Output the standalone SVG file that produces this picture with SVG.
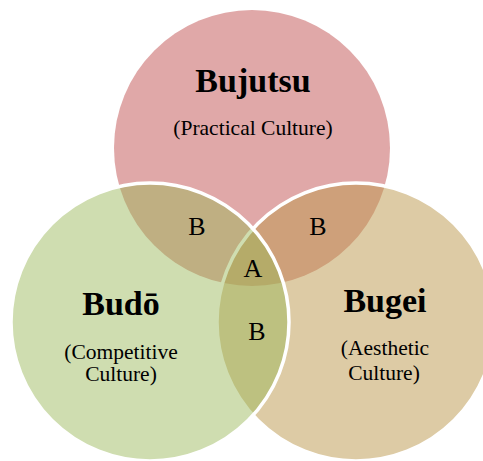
<svg xmlns="http://www.w3.org/2000/svg" width="483" height="461" viewBox="0 0 483 461">
  <style>
    .title { font-family: "Liberation Serif", "Times New Roman", serif; font-weight: bold; font-size: 34px; fill: #000; text-anchor: middle; }
    .sub { font-family: "Liberation Serif", "Times New Roman", serif; font-size: 21.5px; fill: #000; text-anchor: middle; }
    .zone { font-family: "Liberation Serif", "Times New Roman", serif; font-size: 26px; fill: #000; text-anchor: middle; }
    .ring { stroke: #fff; stroke-width: 3.5; }
  </style>
  <rect width="483" height="461" fill="#fff"/>

  <!-- Bujutsu: top set, opaque base layer -->
  <g id="bujutsu">
    <circle cx="252" cy="148" r="138" fill="#E0A8A8"/>
  </g>

  <!-- Bugei: right set, translucent over the top set -->
  <g id="bugei">
    <circle class="ring" cx="356" cy="322" r="139" fill="rgb(187,151,75)" fill-opacity="0.5"/>
  </g>

  <!-- Budō: left set, translucent over both -->
  <g id="budo">
    <circle class="ring" cx="150" cy="322" r="139" fill="rgb(153,183,87)" fill-opacity="0.47"/>
  </g>

  <!-- set names -->
  <g id="labels">
    <text class="title" x="253" y="92">Bujutsu</text>
    <text class="sub" x="253" y="135" font-size="23">(Practical Culture)</text>

    <text class="title" x="121" y="315">Budō</text>
    <text class="sub" x="121" y="359">(Competitive</text>
    <text class="sub" x="121" y="381">Culture)</text>

    <text class="title" x="385" y="312">Bugei</text>
    <text class="sub" x="385" y="355">(Aesthetic</text>
    <text class="sub" x="384" y="380">Culture)</text>
  </g>

  <!-- overlap markers -->
  <g id="overlaps">
    <text class="zone" x="197" y="235">B</text>
    <text class="zone" x="318" y="235">B</text>
    <text class="zone" x="253" y="277">A</text>
    <text class="zone" x="257" y="340">B</text>
  </g>
</svg>
